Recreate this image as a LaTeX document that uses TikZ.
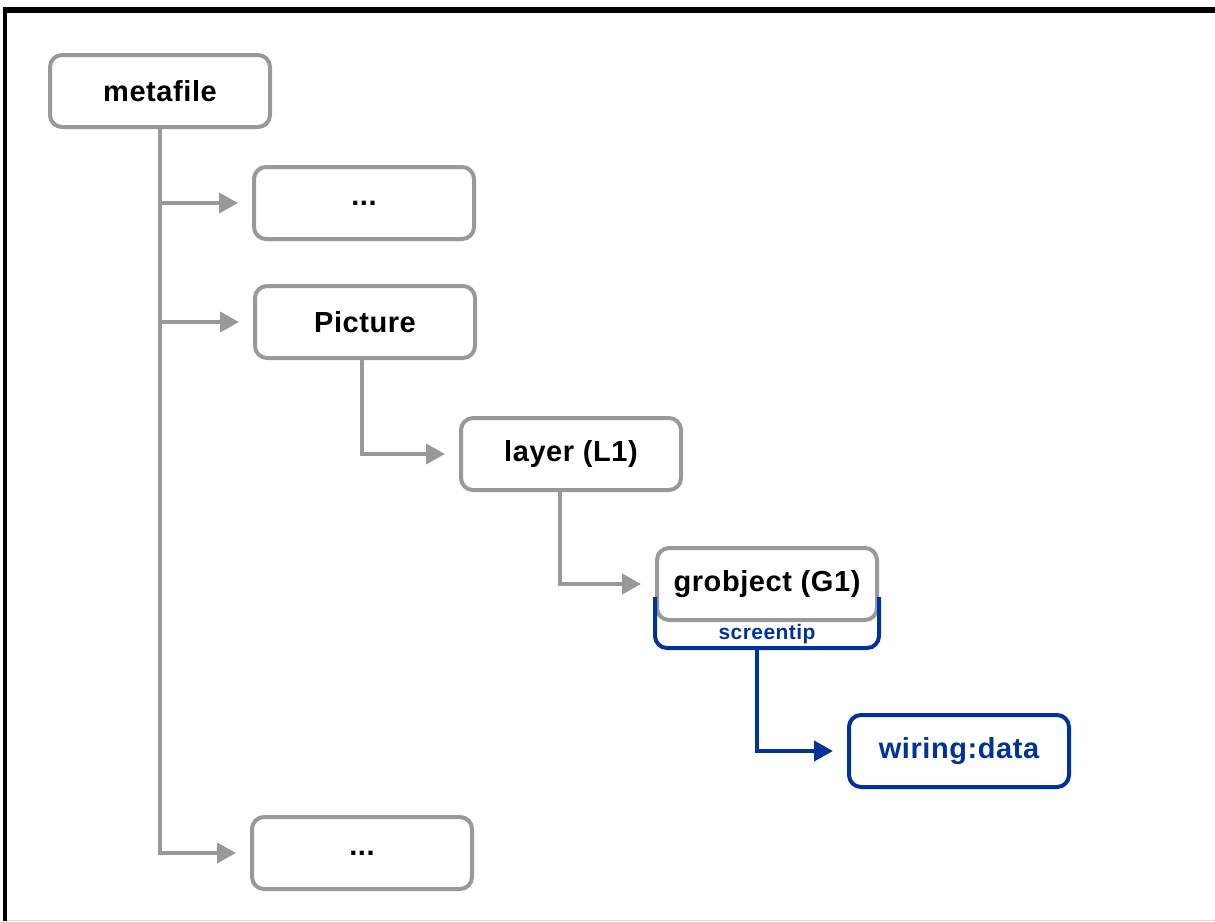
\documentclass[tikz,border=0pt]{standalone}
\usepackage{fontspec}
\setmainfont{Liberation Sans}[LetterSpace=2]
\usetikzlibrary{arrows.meta,calc}
\definecolor{boxgray}{RGB}{153,153,153}
\definecolor{tipblue}{RGB}{0,51,153}
\begin{document}
\begin{tikzpicture}[x=1pt,y=-1pt,
  box/.style={draw=boxgray, line width=4pt, rounded corners=12pt, fill=white,
    minimum width=220pt, minimum height=72pt, inner sep=0pt,
    font=\fontsize{29}{32}\selectfont\bfseries, text=black},
  bluebox/.style={box, draw=tipblue, text=tipblue},
  conn/.style={draw=boxgray, line width=4pt, -{Triangle[length=19pt,width=20pt]}, shorten >=14pt},
  bconn/.style={draw=tipblue, line width=4pt, -{Triangle[length=19pt,width=20pt]}, shorten >=14pt},
  tipline/.style={draw=tipblue, line width=4pt, rounded corners=12pt},
  tiptext/.style={text=tipblue, font=\fontsize{21}{23}\selectfont\bfseries, inner sep=0pt}]
\useasboundingbox (0,0) rectangle (1215,921);
% frame
\fill[black] (3,7) rectangle (1215,13);
\fill[black] (3,7) rectangle (7,921);
\draw[black!12, line width=1pt] (7,920.5) -- (1215,920.5);
% nodes
\node[box] (meta) at (160,91) {metafile};
\node[box] (d1) at (364,203) {...};
\node[box] (pic) at (365,322) {Picture};
\node[box] (layer) at (571,454) {layer (L1)};
\node[box] (g) at (767,584) {grobject (G1)};
\node[bluebox] (w) at (959,751) {wiring:data};
\node[box] (d3) at (362,853) {...};
% connectors
\draw[conn] (meta.south) |- (d1.west);
\draw[conn] (meta.south) |- (pic.west);
\draw[conn] (meta.south) |- (d3.west);
\draw[conn] ([xshift=-3pt]pic.south) |- (layer.west);
\draw[conn] ([xshift=-11pt]layer.south) |- (g.west);
% screentip
\draw[tipline] ([yshift=-13pt]g.west) -- ([yshift=-64pt]g.west) -- ([yshift=-64pt]g.east) -- ([yshift=-13pt]g.east);
\node[tiptext] (tip) at ([yshift=-50pt]g.center) {screentip};
\coordinate (tb) at ([xshift=-10pt,yshift=-64pt]g.center);
\draw[bconn] (tb) |- (w.west);
\end{tikzpicture}
\end{document}
